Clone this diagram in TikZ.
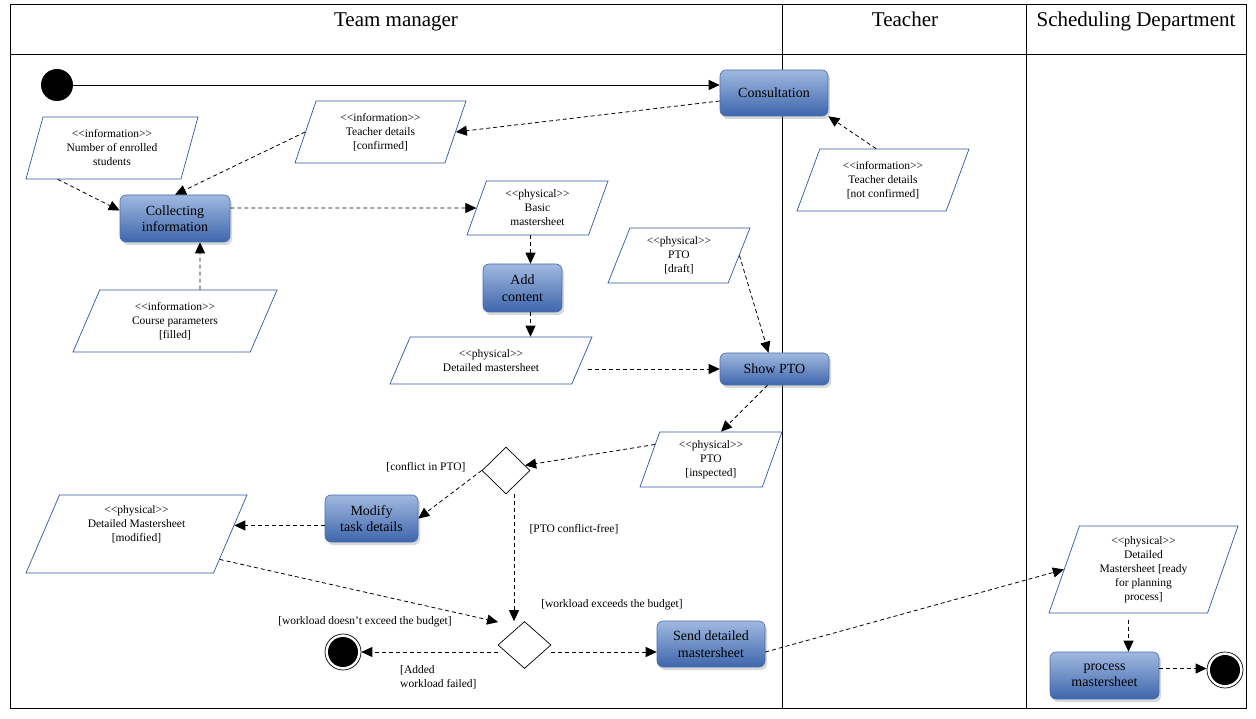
\documentclass[tikz,border=0pt]{standalone}
\usepackage{fontspec}
\setmainfont{Liberation Serif}
\usetikzlibrary{shapes.geometric,arrows.meta,shadows,calc}
\definecolor{boxtop}{HTML}{A0B9E0}
\definecolor{boxbot}{HTML}{3E66AC}
\definecolor{boxline}{HTML}{4A6DAE}
\definecolor{paraline}{HTML}{2F55A4}
\newcommand\stype[1]{<{}<#1>{}>}

\begin{document}
\begin{tikzpicture}[x=1pt, y=-1pt,
  lane/.style={line width=0.9pt},
  lanetitle/.style={anchor=base, font=\fontsize{21}{24}\selectfont},
  activity/.style={rectangle, rounded corners=6pt, draw=boxline, line width=0.6pt,
    top color=boxtop, bottom color=boxbot, align=center, inner sep=2pt,
    font=\fontsize{14}{16.5}\selectfont,
    drop shadow={shadow xshift=2pt, shadow yshift=-3pt, opacity=0.3}},
  para/.style={trapezium, trapezium left angle=#1, trapezium right angle=180-#1,
    trapezium stretches body, draw=paraline, line width=0.7pt, align=center,
    inner sep=1pt, font=\fontsize{11.5}{14}\selectfont},
  para/.default=62,
  decision/.style={diamond, draw, line width=0.7pt, inner sep=0pt, fill=white},
  initial/.style={circle, fill=black, minimum size=32pt, inner sep=0pt},
  final/.style={circle, draw, line width=0.7pt, minimum size=36pt, inner sep=0pt,
    path picture={\fill (path picture bounding box.center) circle (15pt);}},
  flow/.style={-{Triangle[length=11pt,width=10pt]}, dash pattern=on 4pt off 3pt, line width=0.8pt},
  guard/.style={font=\fontsize{11.5}{14}\selectfont}]
      \useasboundingbox (0,0) rectangle (1256,719);
      \draw[lane] (10,4) rectangle (1246,708);
      \draw[lane] (10,54) -- (1246,54);
      \draw[lane] (782,4) -- (782,708);
      \draw[lane] (1026,4) -- (1026,708);
      \node[lanetitle] (tm) at (396,27) {Team manager};
      \node[lanetitle] (tch) at (905,27) {Teacher};
      \node[lanetitle] (sd) at (1136,27) {Scheduling Department};

      \node[initial] (start) at (57,85) {};
      \node[activity, minimum width=108pt, minimum height=46pt] (cons) at (774,93) {Consultation};
      \node[activity, minimum width=110pt, minimum height=47pt] (collect) at (175,218.5) {Collecting\\information};
      \node[activity, minimum width=79pt, minimum height=48pt] (addc) at (522.5,288) {Add\\content};
      \node[activity, minimum width=109pt, minimum height=32pt] (showpto) at (774.5,369) {Show PTO};
      \node[activity, minimum width=93pt, minimum height=47pt] (modify) at (371.5,518.5) {Modify\\task details};
      \node[activity, minimum width=108pt, minimum height=46pt] (send) at (711,644) {Send detailed\\mastersheet};
      \node[activity, minimum width=109pt, minimum height=47pt] (procm) at (1104.5,675.5) {process\\mastersheet};

      \node[para, minimum width=171pt, minimum height=62pt] (tdconf) at (380.5,132) {\stype{information}\\Teacher details\\{[}confirmed{]}};
      \node[para=66, minimum width=172pt, minimum height=62pt] (nes) at (112,148) {\stype{information}\\Number of enrolled\\students};
      \node[para=56, minimum width=204pt, minimum height=62pt] (cp) at (175,321) {\stype{information}\\Course parameters\\{[}filled{]}};
      \node[para=63, minimum width=141pt, minimum height=54pt] (basic) at (537.5,208) {\stype{physical}\\Basic\\mastersheet};
      \node[para=50, minimum width=202pt, minimum height=47pt] (dms) at (491,360.5) {\stype{physical}\\Detailed mastersheet};
      \node[para=61, minimum width=142pt, minimum height=55pt] (ptodraft) at (679,255.5) {\stype{physical}\\PTO\\{[}draft{]}};
      \node[para=60, minimum width=172pt, minimum height=62pt] (tdnot) at (883,180) {\stype{information}\\Teacher details\\{[}not confirmed{]}};
      \node[para=64, minimum width=142pt, minimum height=55pt] (ptoinsp) at (711,459.5) {\stype{physical}\\PTO\\{[}inspected{]}};
      \node[para=60, minimum width=221pt, minimum height=78pt, text depth=20pt] (dmsmod) at (136.5,534) {\stype{physical}\\Detailed Mastersheet\\{[}modified{]}};
      \node[para=66, minimum width=189pt, minimum height=87pt] (dmsready) at (1143.5,569.5) {\stype{physical}\\Detailed\\Mastersheet {[}ready\\for planning\\process{]}};

      \node[decision, minimum width=48pt, minimum height=47pt] (d1) at (506,470.5) {};
      \node[decision, minimum width=53pt, minimum height=47pt] (d2) at (524.5,645) {};
      \node[final] (final1) at (343,652) {};
      \node[final] (final2) at (1225,670) {};

      \draw[-{Triangle[length=11pt,width=10pt]}, line width=0.8pt] (start.east) -- (start.east -| cons.west);
      \draw[flow] ([yshift=-8pt]cons.west) -- (tdconf.east);
      \draw[flow] (nes.210) -- ([yshift=8pt]collect.west);
      \draw[flow] (tdconf.west) -- (collect.north);
      \draw[flow] ([xshift=25pt]cp.north) -- ([xshift=25pt]collect.south);
      \draw[flow] (collect.east |- basic) -- (basic.west);
      \draw[flow] ([xshift=-7pt]basic.south) -- ([xshift=-7pt]basic.south |- addc.north);
      \draw[flow] ([xshift=8pt]addc.south) -- ([xshift=8pt]addc.south |- dms.north);
      \draw[flow] ([xshift=6pt]dms.east |- showpto.west) -- (showpto.west);
      \draw[flow] (ptodraft.east) -- ([xshift=-6pt]showpto.north);
      \draw[flow] ([xshift=-7pt]tdnot.north) -- (cons.south east);
      \draw[flow] ([xshift=-7pt]showpto.south) -- ([xshift=10pt]ptoinsp.north);
      \draw[flow] (ptoinsp.165) -- (d1.15);
      \draw[flow] (d1.west) -- (modify.east);
      \draw[flow] (modify.west |- dmsmod.5) -- (dmsmod.5);
      \draw[flow] ([xshift=8pt]d1.south) -- ([xshift=8pt]d1.south |- d2.north);
      \draw[flow] (dmsmod.-17) -- ($(d2.north west)+(-13,-11)$);
      \draw[flow] (final1 -| d2.west) -- (final1.east);
      \draw[flow] ([yshift=-8pt]send.west -| d2.east) -- ([yshift=-8pt]send.west);
      \draw[flow] ([yshift=-8pt]send.east) -- (dmsready.west);
      \draw[flow] ([xshift=-15pt,yshift=-7pt]dmsready.south) -- ([xshift=-15pt]dmsready.south |- procm.north);
      \draw[flow] ([yshift=7pt]procm.east) -- ([yshift=7pt]procm.east -| final2.west);

      \node[guard, anchor=east] (gconflict) at (469,467) {{[}conflict in PTO{]}};
      \node[guard, anchor=west] (gfree) at (526,529) {{[}PTO conflict-free{]}};
      \node[guard] (gnotexceed) at (365,622) {{[}workload doesn't exceed the budget{]}};
      \node[guard] (gexceed) at (612,605) {{[}workload exceeds the budget{]}};
      \node[guard, anchor=north west, align=left, inner sep=0pt] (gfailed) at (400,665) {{[}Added\\workload failed{]}};
\end{tikzpicture}
\end{document}
